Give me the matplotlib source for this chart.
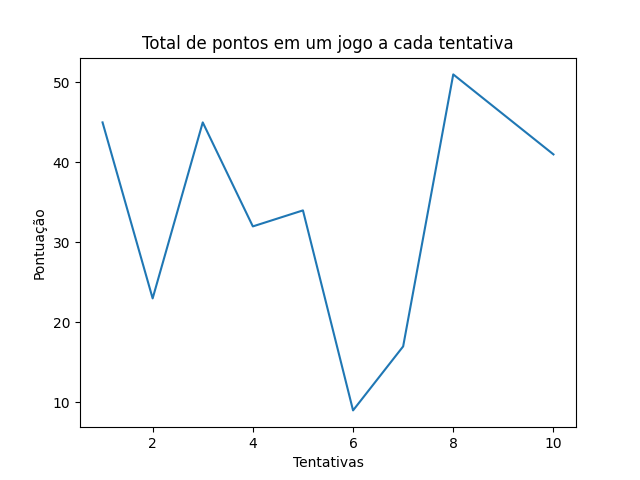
import matplotlib
matplotlib.use('Agg')
import matplotlib.pyplot as plt

# Pontuação de cada tentativa
tentativas = [1, 2, 3, 4, 5, 6, 7, 8, 9, 10]
pontos = [45, 23, 45, 32, 34, 9, 17, 51, 46, 41]

fig, ax = plt.subplots(figsize=(6.4, 4.8), dpi=100)
ax.plot(tentativas, pontos)
ax.set_title('Total de pontos em um jogo a cada tentativa')
ax.set_xlabel('Tentativas')
ax.set_ylabel('Pontuação')

fig.savefig('out.png')
plt.close()
